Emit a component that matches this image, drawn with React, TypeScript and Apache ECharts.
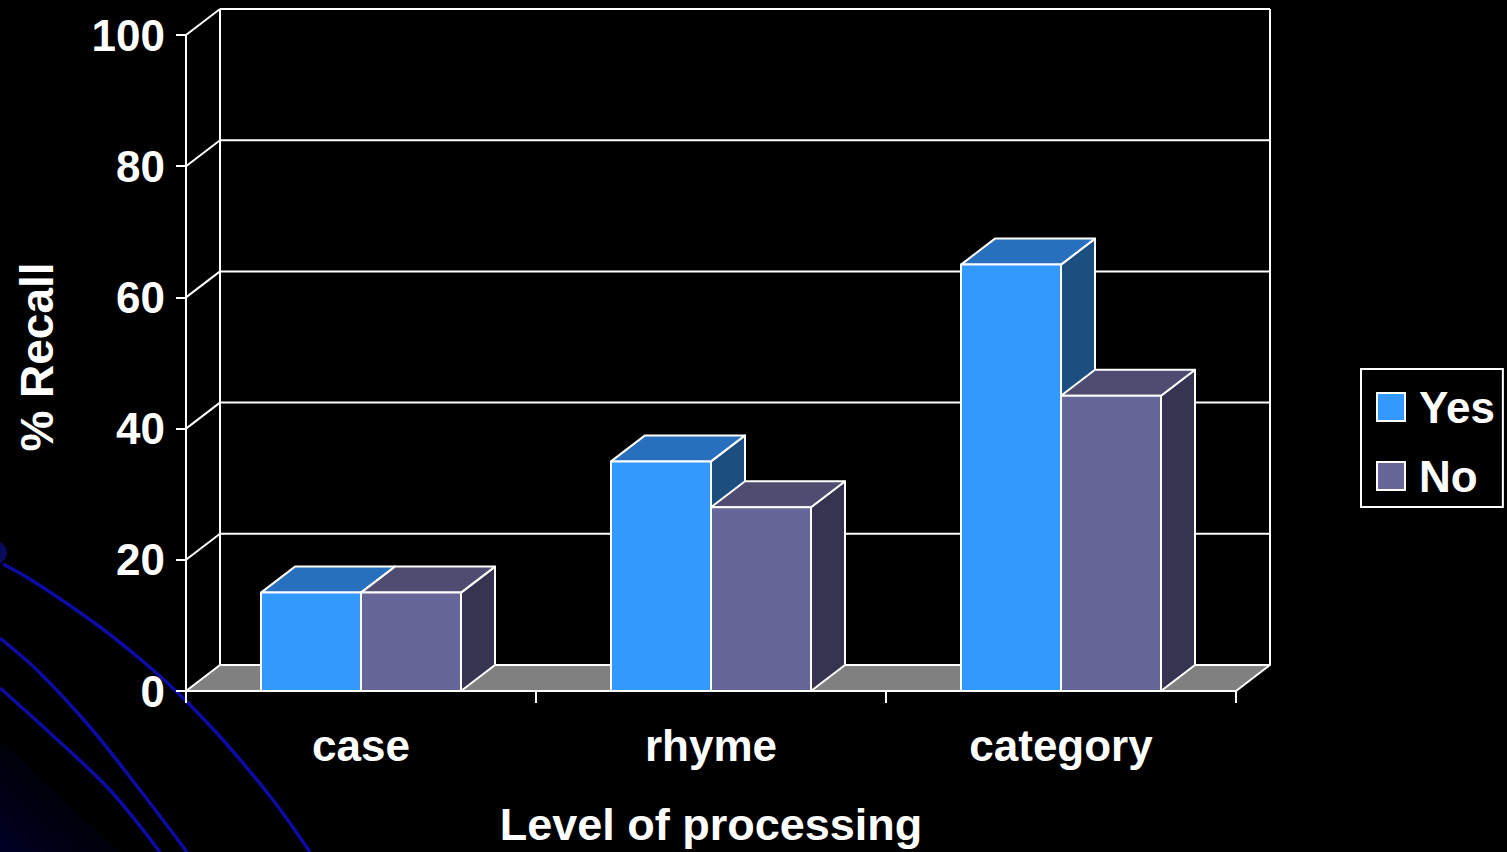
import React, { useEffect, useRef } from "react";
import * as echarts from "echarts";

const categories = ["case", "rhyme", "category"];
const yesValues = [15, 35, 65];
const noValues = [15, 28, 45];
const yTicks = [0, 20, 40, 60, 80, 100];
const seriesNames = ["Yes", "No"];
const xAxisTitle = "Level of processing";
const yAxisTitle = "% Recall";

const DX = 34;
const DY = -26;
const FONT = "'Liberation Sans', Arial, Helvetica, sans-serif";

const faces: Record<string, { front: string; top: string; side: string }> = {
  Yes: { front: "#3399FF", top: "#2870BE", side: "#1C4E80" },
  No: { front: "#666699", top: "#4E4C70", side: "#363450" },
};

const stroke = { stroke: "#ffffff", lineWidth: 2, lineJoin: "round" as const };

function makeBarRender(slot: number, c: { front: string; top: string; side: string }) {
  return (params: any, api: any) => {
    const ci = api.value(0);
    const v = api.value(1);
    const top = api.coord([ci, v]);
    const base = api.coord([ci, 0]);
    const catW = api.size([1, 0])[0];
    const bw = (catW * 2) / 7;
    const x0 = top[0] - bw + slot * bw;
    const x1 = x0 + bw;
    const yT = top[1];
    const yB = base[1];
    return {
      type: "group",
      children: [
        {
          type: "polygon",
          shape: { points: [[x1, yB], [x1 + DX, yB + DY], [x1 + DX, yT + DY], [x1, yT]] },
          style: { fill: c.side, ...stroke },
        },
        {
          type: "polygon",
          shape: { points: [[x0, yT], [x1, yT], [x1 + DX, yT + DY], [x0 + DX, yT + DY]] },
          style: { fill: c.top, ...stroke },
        },
        {
          type: "rect",
          shape: { x: x0, y: yT, width: bw, height: yB - yT },
          style: { fill: c.front, ...stroke },
        },
      ],
    };
  };
}

function wallRender(params: any, api: any) {
  const cs = params.coordSys;
  const left = cs.x;
  const right = cs.x + cs.width;
  const v = api.value(1);
  const y = api.coord([0, v])[1];
  const children: any[] = [];
  if (v === yTicks[0]) {
    const yTop = api.coord([0, yTicks[yTicks.length - 1]])[1];
    children.push({
      type: "polygon",
      shape: { points: [[left, y], [right, y], [right + DX, y + DY], [left + DX, y + DY]] },
      style: { fill: "#808080", ...stroke },
    });
    children.push({
      type: "line",
      shape: { x1: left + DX, y1: y + DY, x2: left + DX, y2: yTop + DY },
      style: { ...stroke },
    });
    children.push({
      type: "line",
      shape: { x1: right + DX, y1: y + DY, x2: right + DX, y2: yTop + DY },
      style: { ...stroke },
    });
  } else {
    children.push({
      type: "line",
      shape: { x1: left, y1: y, x2: left + DX, y2: y + DY },
      style: { ...stroke },
    });
    children.push({
      type: "line",
      shape: { x1: left + DX, y1: y + DY, x2: right + DX, y2: y + DY },
      style: { ...stroke },
    });
  }
  return { type: "group", children };
}

const curveColor = "#0C0CA4";

export default function App() {
  const ref = useRef<HTMLDivElement>(null);
  useEffect(() => {
    document.body.style.margin = "0";
    document.body.style.background = "#000";
    if (!ref.current) return;
    const chart = echarts.init(ref.current, undefined, { renderer: "svg" });
    const label = { color: "#ffffff", fontWeight: "bold" as const, fontSize: 44, fontFamily: FONT };
    chart.setOption({
      animation: false,
      backgroundColor: "#000000",
      graphic: {
        elements: [
          {
            type: "polygon",
            z: -10,
            shape: { points: [[0, 740], [0, 852], [120, 852]] },
            style: {
              fill: new echarts.graphic.LinearGradient(0, 1, 1, 0, [
                { offset: 0, color: "rgba(0,0,40,1)" },
                { offset: 1, color: "rgba(0,0,0,0)" },
              ]),
            },
          },
          {
            type: "circle",
            z: -10,
            shape: { cx: -5, cy: 553, r: 12 },
            style: { fill: "#0A0A5A" },
          },
          {
            type: "polyline",
            z: -10,
            shape: {
              points: [[3, 564], [33, 581], [100, 627], [153, 670], [187, 702], [223, 740], [273, 800], [310, 852]],
              smooth: 0.3,
            },
            style: { stroke: curveColor, lineWidth: 3.5, fill: null },
          },
          {
            type: "polyline",
            z: -10,
            shape: {
              points: [[0, 638], [37, 670], [90, 727], [140, 790], [187, 852]],
              smooth: 0.3,
            },
            style: { stroke: curveColor, lineWidth: 3.5, fill: null },
          },
          {
            type: "polyline",
            z: -10,
            shape: {
              points: [[0, 688], [50, 733], [110, 790], [160, 852]],
              smooth: 0.3,
            },
            style: { stroke: curveColor, lineWidth: 3.5, fill: null },
          },
        ],
      },
      grid: { left: 186, right: 271, top: 35, bottom: 161, containLabel: false },
      legend: {
        data: seriesNames,
        orient: "vertical",
        left: 1361,
        top: 369,
        icon: "rect",
        itemWidth: 28,
        itemHeight: 28,
        itemGap: 25,
        borderColor: "#ffffff",
        borderWidth: 2,
        padding: [16, 8, 9, 15],
        itemStyle: { borderColor: "#ffffff", borderWidth: 2 },
        textStyle: { ...label, lineHeight: 44, padding: [0, 0, 0, 9] },
      },
      xAxis: {
        type: "category",
        data: categories,
        name: xAxisTitle,
        nameLocation: "middle",
        nameGap: 111,
        nameTextStyle: { ...label, fontSize: 45 },
        axisLine: { show: true, lineStyle: { color: "#ffffff", width: 2 } },
        axisTick: { show: true, length: 12, lineStyle: { color: "#ffffff", width: 2 } },
        axisLabel: { ...label, margin: 32 },
        splitLine: { show: false },
      },
      yAxis: {
        type: "value",
        min: 0,
        max: 100,
        interval: 20,
        name: yAxisTitle,
        nameLocation: "middle",
        nameRotate: 90,
        nameGap: 126,
        nameTextStyle: { ...label, fontSize: 46, padding: [0, 0, 0, 12] },
        axisLine: { show: true, lineStyle: { color: "#ffffff", width: 2 } },
        axisTick: { show: true, length: 10, lineStyle: { color: "#ffffff", width: 2 } },
        axisLabel: { ...label, margin: 21 },
        splitLine: { show: false },
      },
      series: [
        {
          type: "custom",
          name: "wall",
          clip: false,
          silent: true,
          z: 1,
          renderItem: wallRender,
          data: yTicks.map((v) => [0, v]),
        },
        {
          type: "custom",
          name: seriesNames[0],
          clip: false,
          z: 2,
          itemStyle: { color: faces.Yes.front },
          renderItem: makeBarRender(0, faces.Yes),
          data: yesValues.map((v, i) => [i, v]),
        },
        {
          type: "custom",
          name: seriesNames[1],
          clip: false,
          z: 3,
          itemStyle: { color: faces.No.front },
          renderItem: makeBarRender(1, faces.No),
          data: noValues.map((v, i) => [i, v]),
        },
      ],
    });
    return () => chart.dispose();
  }, []);
  return (
    <div
      ref={ref}
      style={{ position: "absolute", left: 0, top: 0, width: 1507, height: 852, background: "#000" }}
    />
  );
}
